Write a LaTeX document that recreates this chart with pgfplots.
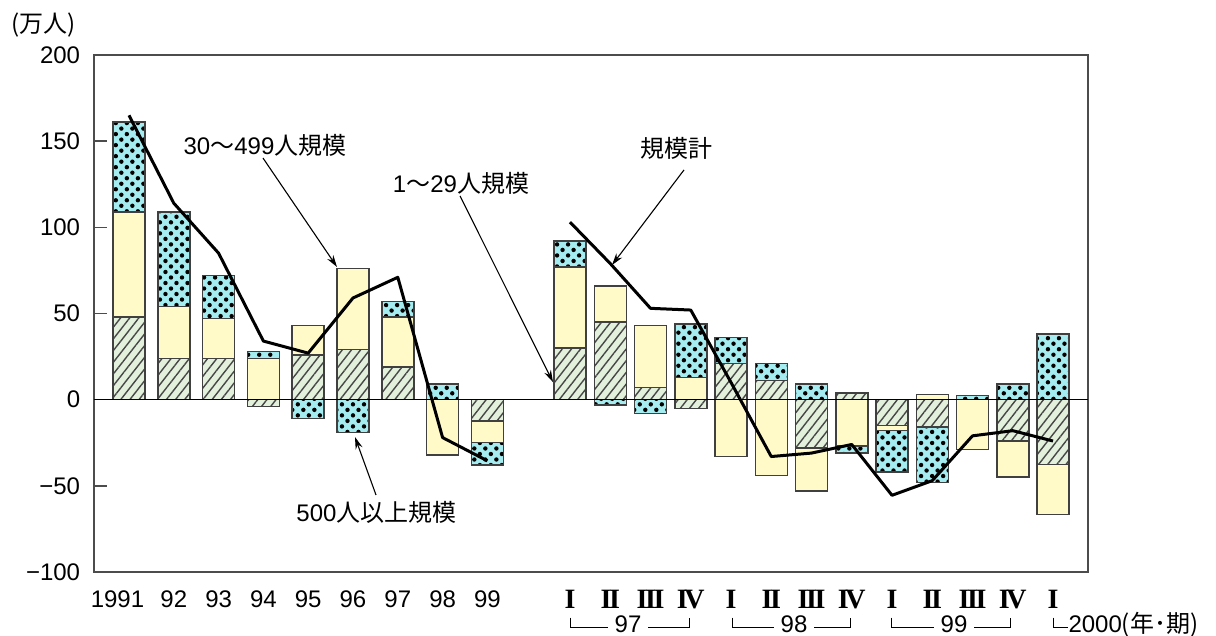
\documentclass[border=0pt]{standalone}
\usepackage{fontspec}
\setmainfont{Liberation Sans}
\newfontfamily\jp{Noto Sans CJK JP}
\newfontfamily\serifnum{Liberation Serif}
\usepackage{pgfplots}
\pgfplotsset{compat=1.18}
\usepackage{pgfplotstable}
\usetikzlibrary{patterns.meta, arrows.meta}

\definecolor{smallfirm}{RGB}{226,240,220}
\definecolor{midfirm}{RGB}{255,250,200}
\definecolor{largefirm}{RGB}{165,236,240}
\definecolor{edge}{RGB}{64,64,64}

\newcommand\fs{\fontsize{12}{14}\selectfont}
% quarter numerals: bold serif, letters pushed together
\newcommand\qI{{\serifnum\bfseries\fontsize{14}{14}\selectfont I}}
\newcommand\qII{{\serifnum\bfseries\fontsize{14}{14}\selectfont I\kern-1.2ptI}}
\newcommand\qIII{{\serifnum\bfseries\fontsize{14}{14}\selectfont I\kern-1.2ptI\kern-1.2ptI}}
\newcommand\qIV{{\serifnum\bfseries\fontsize{14}{14}\selectfont I\kern-1.6ptV}}

% x: bar position, h: 1-29, y: 30-499, c: 500+, t: total
\pgfplotstableread{
x      h     y     c    t
129.0  48    61    52   165
173.8  24    30    55   114
218.6  24    23    25   85
263.4  -4    24    4    34
308.2  26    17    -11  27
353.0  29    47    -19  59
397.8  19    29    9    71
442.6  0     -32   9    -22
487.4  -12.5 -12.5 -13  -35.5
570.00 30    47    15   103
610.25 45    21    -3   79
650.50 7     36    -8   53
690.75 -5    13    31   52
731.00 21    -33   15   10
771.25 11    -44   10   -33
811.50 -28   -25   9    -31
851.75 4     -27   -4   -26
892.00 -15   -3    -24  -55.5
932.25 -16   3     -32  -47
972.50 0     -29   2.5  -21
1012.75 -24  -21   9    -18
1053.00 -37.5 -29  38   -24
}\bars

\begin{document}
\begin{tikzpicture}
\path[use as bounding box] (-47.25pt,-32pt) rectangle (560.75pt,286pt);
\pgfplotsset{
  panel/.style={scale only axis, width=496.6pt, height=258.5pt,
    xmin=94.5, xmax=1087.7, ymin=-100, ymax=200, enlargelimits=false,
    at={(0pt,0pt)}, anchor=south west, clip=false},
  segA/.style={fill=smallfirm, draw=edge, line width=0.75pt,
    postaction={pattern={Lines[angle=52,distance=3.6pt,line width=0.7pt]}, pattern color=black!72}},
  segB/.style={fill=midfirm, draw=edge, line width=0.75pt},
  segC/.style={fill=largefirm, draw=edge, line width=0.75pt,
    postaction={pattern={Dots[angle=45,distance=3.9pt,radius=1.1pt]}, pattern color=black}},
}
% positive parts, with frame and ticks
\begin{axis}[panel, ybar stacked, bar width=32,
  axis line style={draw=black!70, line width=1pt},
  tick align=inside, ytick pos=left, major tick length=6.5pt,
  ytick={-100,-50,0,50,100,150,200},
  yticklabels={−100,−50,0,50,100,150,200},
  ytick style={draw=black!70, line width=0.8pt},
  yticklabel style={font=\fs, anchor=east, inner sep=0pt, xshift=-7pt},
  xtick={117.5,173.8,218.6,263.4,308.2,353.0,397.8,442.6,487.4,
         570,610.25,650.5,690.75,731,771.25,811.5,851.75,892,932.25,972.5,1012.75,1053},
  xticklabels={1991,92,93,94,95,96,97,98,99,
    \qI,\qII,\qIII,\qIV,\qI,\qII,\qIII,\qIV,\qI,\qII,\qIII,\qIV,\qI},
  xtick style={draw=none},
  xticklabel style={font=\fs, anchor=north, inner sep=0pt, yshift=-9pt},
]
\addplot[segA] table[x=x, y expr={max(\thisrow{h},0)}] {\bars};
\addplot[segB] table[x=x, y expr={max(\thisrow{y},0)}] {\bars};
\addplot[segC] table[x=x, y expr={max(\thisrow{c},0)}] {\bars};
\end{axis}
% negative parts, stacked downward from zero
\begin{axis}[panel, hide axis, ybar stacked, bar width=32]
\addplot[segA] table[x=x, y expr={min(\thisrow{h},0)}] {\bars};
\addplot[segB] table[x=x, y expr={min(\thisrow{y},0)}] {\bars};
\addplot[segC] table[x=x, y expr={min(\thisrow{c},0)}] {\bars};
\end{axis}
% total line, zero line and labels
\begin{axis}[panel, hide axis]
\draw[black, line width=0.55pt] (axis cs:94.5,0) -- (axis cs:1087.7,0);
\addplot[black, line width=1.5pt, line join=round, mark=none, restrict x to domain=0:500]
  table[x=x, y=t] {\bars};
\addplot[black, line width=1.5pt, line join=round, mark=none, restrict x to domain=500:1100]
  table[x=x, y=t] {\bars};

\node[font=\fs] at (axis cs:43.5,217.4) {{\jp (万人)}};

\node[font=\fs] at (axis cs:265,147.8) {30{\jp ～}499{\jp 人規模}};
\node[font=\fs] at (axis cs:461,125.7) {1{\jp ～}29{\jp 人規模}};
\node[font=\fs] at (axis cs:376.5,-65.2) {500{\jp 人以上規模}};
\node[font=\fs] at (axis cs:676,146.0) {{\jp 規模計}};
\begin{scope}[line width=0.55pt, -{Stealth[length=6pt,width=3.6pt]}]
\draw (axis cs:263,140.2) -- (axis cs:337,77.0);
\draw (axis cs:460,118.2) -- (axis cs:553,10.2);
\draw (axis cs:684,133.3) -- (axis cs:612,78.1);
\draw (axis cs:376,-55.3) -- (axis cs:355,-21.7);
\end{scope}

% year brackets under the quarters
\begin{scope}[line width=0.5pt, every node/.style={font=\fs, inner sep=0pt}]
\draw (axis cs:570,-126.5) -- (axis cs:570,-132.4) -- (axis cs:608,-132.4);
\draw (axis cs:648,-132.4) -- (axis cs:689,-132.4) -- (axis cs:689,-126.5);
\node at (axis cs:628,-130.4) {97};
\draw (axis cs:732,-126.5) -- (axis cs:732,-132.4) -- (axis cs:774,-132.4);
\draw (axis cs:814,-132.4) -- (axis cs:850,-132.4) -- (axis cs:850,-126.5);
\node at (axis cs:794,-130.4) {98};
\draw (axis cs:891,-126.5) -- (axis cs:891,-132.4) -- (axis cs:934,-132.4);
\draw (axis cs:974,-132.4) -- (axis cs:1010,-132.4) -- (axis cs:1010,-126.5);
\node at (axis cs:954,-130.4) {99};
\draw (axis cs:1053,-126.5) -- (axis cs:1053,-132.4) -- (axis cs:1068,-132.4);
\node[anchor=west] at (axis cs:1068,-130.4) {2000{\jp (年･期)}};
\end{scope}
\end{axis}
\end{tikzpicture}
\end{document}
